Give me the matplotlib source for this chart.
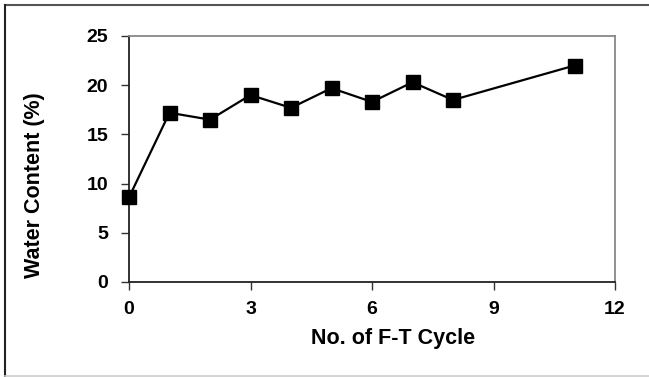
import matplotlib.pyplot as plt
from matplotlib.lines import Line2D

cycles = [0, 1, 2, 3, 4, 5, 6, 7, 8, 11]
water = [8.6, 17.2, 16.5, 19.0, 17.7, 19.7, 18.3, 20.3, 18.5, 22.0]
x_ticks = [0, 3, 6, 9, 12]
y_ticks = [0, 5, 10, 15, 20, 25]

plt.rcParams['font.family'] = ['Liberation Sans', 'DejaVu Sans']
plt.rcParams['font.weight'] = 'bold'

fig = plt.figure(figsize=(6.49, 3.77), dpi=100)
ax = fig.add_axes([129 / 649, 1 - 282 / 377, (615 - 129) / 649, (282 - 36) / 377])

ax.plot(cycles, water, color='black', lw=1.6, marker='s', ms=9.5,
        markerfacecolor='black', markeredgecolor='black', clip_on=False, zorder=3)

ax.set_xlim(0, 12)
ax.set_ylim(0, 25)
ax.set_xticks(x_ticks)
ax.set_yticks(y_ticks)
ax.tick_params(axis='both', direction='out', length=6, width=1, labelsize=14, color='#333333')
ax.tick_params(axis='y', pad=9)
ax.tick_params(axis='x', pad=8)
for lab in ax.get_xticklabels() + ax.get_yticklabels():
    lab.set_fontweight('bold')

ax.spines['left'].set_color('#222222')
ax.spines['bottom'].set_color('#222222')
ax.spines['top'].set_color('#888888')
ax.spines['right'].set_color('#888888')
for s in ax.spines.values():
    s.set_linewidth(1.3)

ax.set_xlabel('No. of F-T Cycle', fontsize=15.5, fontweight='bold', labelpad=7)
ax.set_ylabel('Water Content (%)', fontsize=15.5, fontweight='bold', labelpad=30)
# titles sit off-centre in the original
ax.xaxis.label.set_x(0.543)
ax.yaxis.label.set_y(0.394)

# chart border (cropped Excel frame)
fig.add_artist(Line2D([5 / 649, 1], [1 - 5 / 377, 1 - 5 / 377], transform=fig.transFigure, color='#555555', lw=1.5))
fig.add_artist(Line2D([5 / 649, 5 / 649], [1 - 5 / 377, 0], transform=fig.transFigure, color='#222222', lw=1.5))
fig.add_artist(Line2D([5 / 649, 1], [1 / 377, 1 / 377], transform=fig.transFigure, color='#cccccc', lw=1.2))

fig.savefig('out.png', dpi=100)
